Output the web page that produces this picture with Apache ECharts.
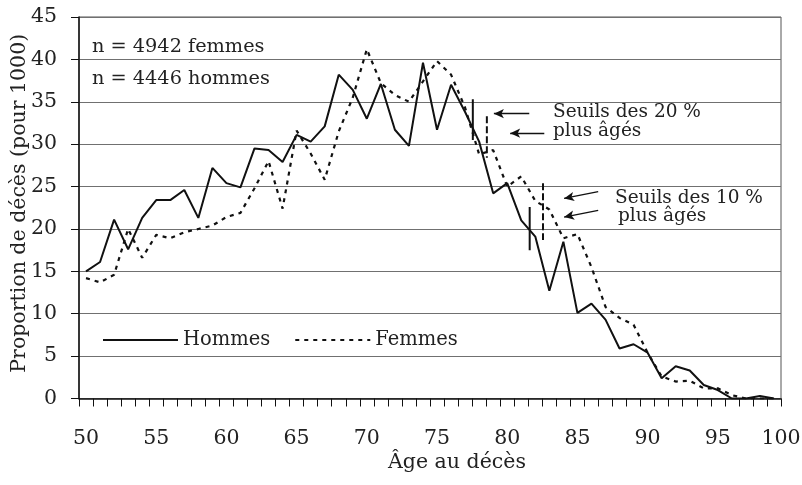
<!DOCTYPE html>
<html>
<head>
<meta charset="utf-8">
<script src="https://cdn.jsdelivr.net/npm/echarts@6/dist/echarts.min.js"></script>
<style>
  html, body { margin: 0; padding: 0; background: #fff; }
  #chart { width: 802px; height: 485px; }
</style>
</head>
<body>
<div id="chart"></div>
<script>
// ages 50..99
var ages = [];
for (var a = 50; a <= 99; a++) ages.push(String(a));

// proportion de décès pour 1000
var hommes = [15.0, 16.1, 21.1, 17.6, 21.3, 23.4, 23.4, 24.6, 21.3, 27.2,
              25.4, 24.9, 29.5, 29.3, 27.9, 31.1, 30.3, 32.1, 38.2, 36.4,
              33.0, 37.1, 31.7, 29.8, 39.6, 31.7, 37.0, 33.8, 30.3, 24.2,
              25.4, 21.0, 19.1, 12.7, 18.5, 10.1, 11.2, 9.3, 5.9, 6.4,
              5.4, 2.4, 3.8, 3.3, 1.6, 1.0, 0.0, 0.0, 0.3, 0.0];
var femmes = [14.2, 13.7, 14.6, 20.0, 16.6, 19.3, 18.9, 19.6, 20.0, 20.4,
              21.4, 21.9, 24.8, 28.0, 22.4, 31.6, 28.9, 25.8, 31.5, 35.5,
              41.2, 37.2, 35.8, 35.0, 37.4, 39.8, 38.2, 34.3, 28.8, 29.3,
              25.0, 26.2, 23.3, 22.3, 18.9, 19.4, 15.5, 10.8, 9.5, 8.7,
              5.4, 2.6, 2.0, 2.1, 1.2, 1.2, 0.4, 0.0, 0.0, 0.0];

// seuils (âge, haut, bas)
var seuilH20 = [77.55, 35.3, 30.5];
var seuilF20 = [78.55, 33.3, 28.4];
var seuilH10 = [81.6, 22.6, 17.5];
var seuilF10 = [82.55, 25.4, 18.7];

// flèches : [âge départ, valeur départ, âge arrivée, valeur arrivée]
var fleches = [
  [81.57, 33.6, 79.05, 33.6],
  [82.64, 31.3, 80.21, 31.3],
  [86.48, 24.4, 84.05, 23.6],
  [86.48, 22.2, 84.05, 21.4]
];

var yTicks = [0, 5, 10, 15, 20, 25, 30, 35, 40, 45];

var FONT = 'DejaVu Serif';
var TXT = '#222';

var myChart = echarts.init(document.getElementById('chart'));

function seuilSerie(name, s, dash){
  return {
    name: name,
    type: 'line',
    xAxisIndex: 1,
    symbol: 'none',
    silent: true,
    lineStyle: { color: '#111', width: 2, type: dash },
    data: [[s[0], s[1]], [s[0], s[2]]]
  };
}

var arrowSeries = seuilSerie('seuil H20', seuilH20, 'solid');
arrowSeries.markLine = {
  silent: true,
  symbol: ['none', 'arrow'],
  symbolSize: [7, 10],
  label: { show: false },
  lineStyle: { color: '#111', width: 1.3, type: 'solid' },
  data: fleches.map(function(f){
    return [{ coord: [f[0], f[1]] }, { coord: [f[2], f[3]] }];
  })
};

function note(txt, x, y, size){
  return { type: 'text', left: x, top: y, style: { text: txt, font: size + 'px ' + FONT, fill: TXT } };
}

var option = {
  animation: false,
  textStyle: { fontFamily: FONT, color: TXT },
  grid: {
    left: 79, right: 21, top: 17, bottom: 86.5,
    show: true, borderColor: '#555', borderWidth: 1,
    outerBoundsMode: 'none'
  },
  legend: {
    data: ['Hommes', 'Femmes'],
    left: 97, top: 325,
    itemWidth: 75, itemHeight: 14, itemGap: 24,
    itemStyle: { opacity: 0 },
    textStyle: { fontFamily: FONT, fontSize: 19.5, color: TXT }
  },
  xAxis: [
    {
      type: 'category',
      data: ages,
      boundaryGap: true,
      name: 'Âge au décès',
      nameLocation: 'middle',
      nameGap: 54,
      nameMoveOverlap: false,
      nameTextStyle: { fontFamily: FONT, fontSize: 20.5, color: TXT, padding: [0, 0, 0, 54] },
      axisLine: { lineStyle: { color: '#111', width: 1.5 } },
      axisTick: { show: true, interval: 0, length: 8, lineStyle: { color: '#111' } },
      axisLabel: { interval: 4, margin: 30, fontFamily: FONT, fontSize: 20.5, color: TXT },
      splitLine: { show: false }
    },
    {
      type: 'value',
      position: 'bottom',
      min: 49.5, max: 99.5, interval: 0.5,
      axisLine: { show: false },
      axisTick: { show: false },
      splitLine: { show: false },
      axisLabel: {
        showMaxLabel: true, showMinLabel: true,
        margin: 30, fontFamily: FONT, fontSize: 20.5, color: TXT,
        formatter: function(v){ return v === 99.5 ? '100' : ''; }
      }
    }
  ],
  yAxis: {
    type: 'value',
    min: yTicks[0], max: yTicks[yTicks.length - 1], interval: 5,
    name: 'Proportion de décès (pour 1000)',
    nameLocation: 'middle',
    nameGap: 49,
    nameMoveOverlap: false,
    nameTextStyle: { fontFamily: FONT, fontSize: 20.5, color: TXT, padding: [0, 0, 0, 9] },
    axisLine: { show: true, lineStyle: { color: '#111', width: 1.5 } },
    axisTick: { show: true, length: 8, lineStyle: { color: '#111' } },
    axisLabel: { margin: 22, fontFamily: FONT, fontSize: 20.5, color: TXT },
    splitLine: { lineStyle: { color: '#707070', width: 1 } }
  },
  graphic: [
    note('n = 4942 femmes', 92, 37, 19.3),
    note('n = 4446 hommes', 92, 69, 19.3),
    note('Seuils des 20 %', 553, 103, 18.5),
    note('plus âgés', 553, 122, 18.5),
    note('Seuils des 10 %', 615, 189, 18.5),
    note('plus âgés', 618, 207, 18.5)
  ],
  series: [
    {
      name: 'Hommes',
      type: 'line',
      symbol: 'none',
      lineStyle: { color: '#111', width: 2 },
      itemStyle: { color: '#111' },
      data: hommes
    },
    {
      name: 'Femmes',
      type: 'line',
      symbol: 'none',
      lineStyle: { color: '#111', width: 2.2, type: [4, 5] },
      itemStyle: { color: '#111' },
      data: femmes
    },
    arrowSeries,
    seuilSerie('seuil F20', seuilF20, [7, 3]),
    seuilSerie('seuil H10', seuilH10, 'solid'),
    seuilSerie('seuil F10', seuilF10, [7, 3])
  ]
};

myChart.setOption(option);
</script>
</body>
</html>
